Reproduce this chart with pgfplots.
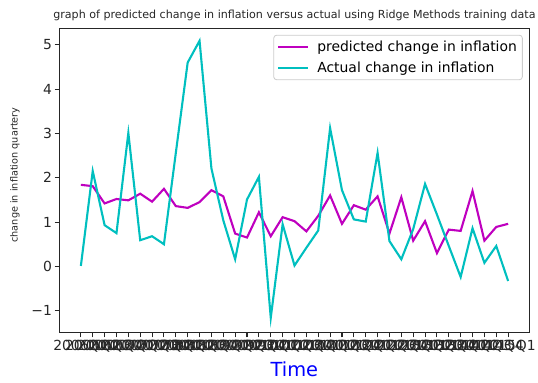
\documentclass[border=0pt]{standalone}
\usepackage{fontspec}
\setmainfont{DejaVu Sans}
\usepackage{pgfplots}
\pgfplotsset{compat=1.18}
\definecolor{mplm}{rgb}{0.75,0,0.75}
\definecolor{mplc}{rgb}{0,0.75,0.75}
\definecolor{legedge}{gray}{0.8}
\definecolor{mplblue}{rgb}{0,0,1}
\pgfplotstableread{
x pred actual
0 1.84 0.01
1 1.81 2.15
2 1.42 0.93
3 1.52 0.75
4 1.49 3.01
5 1.64 0.59
6 1.46 0.68
7 1.75 0.50
8 1.36 2.56
9 1.32 4.60
10 1.45 5.09
11 1.72 2.21
12 1.58 1.04
13 0.74 0.16
14 0.65 1.51
15 1.22 2.02
16 0.68 -1.16
17 1.11 0.95
18 1.02 0.02
19 0.79 0.42
20 1.14 0.81
21 1.60 3.12
22 0.96 1.72
23 1.38 1.06
24 1.28 1.01
25 1.58 2.56
26 0.74 0.57
27 1.56 0.16
28 0.58 0.84
29 1.02 1.86
30 0.30 1.17
31 0.83 0.46
32 0.80 -0.24
33 1.70 0.86
34 0.58 0.08
35 0.89 0.46
36 0.96 -0.33
}\datatable
\begin{document}
\begin{tikzpicture}
\path[use as bounding box] (0,0) rectangle (538bp,383bp);
\begin{axis}[
  at={(59.5bp,50.6bp)}, anchor=south west,
  scale only axis, width=470bp, height=304bp,
  xmin=-1.8, xmax=37.8, ymin=-1.49, ymax=5.37,
  axis line style={line width=1.1bp, black!85},
  tick style={line width=1.1bp, black!85},
  tick align=outside, major tick length=4.9bp,
  xtick pos=bottom, ytick pos=left,
  xtick={0,...,36},
  xticklabels={2006Q1,2006Q2,2006Q3,2006Q4,2007Q1,2007Q2,2007Q3,2007Q4,2008Q1,2008Q2,2008Q3,2008Q4,2009Q1,2009Q2,2009Q3,2009Q4,2010Q1,2010Q2,2010Q3,2010Q4,2011Q1,2011Q2,2011Q3,2011Q4,2012Q1,2012Q2,2012Q3,2012Q4,2013Q1,2013Q2,2013Q3,2013Q4,2014Q1,2014Q2,2014Q3,2014Q4,2015Q1},
  ytick={-1,0,1,2,3,4,5},
  yticklabels={−1,0,1,2,3,4,5},
  tick label style={font=\fontsize{13.9bp}{16bp}\selectfont, text=black!85},
  yticklabel style={inner sep=2.5bp},
  xticklabel style={inner sep=2.5bp},
  legend style={
    at={(0.9857,0.979)}, anchor=north east,
    draw=legedge, line width=0.8bp, rounded corners=3bp, fill=white,
    font=\fontsize{13.9bp}{16.7bp}\selectfont,
    inner xsep=3.5bp, inner ysep=4bp, row sep=4.5bp,
    /tikz/every odd column/.append style={column sep=6bp},
  },
  legend cell align=left,
  legend image code/.code={\draw[#1] (0bp,0bp) -- (30bp,0bp);},
]
\addplot[mplm, line width=2.1bp] table[x=x, y=pred] {\datatable};
\addlegendentry{predicted change in inflation}
\addplot[mplc, line width=2.1bp] table[x=x, y=actual] {\datatable};
\addlegendentry{Actual change in inflation}
\end{axis}
\node[anchor=base, font=\fontsize{11.1bp}{13bp}\selectfont, text=black!85] at (294.4bp,364bp) {graph of predicted change in inflation versus actual using Ridge Methods training data};
\node[rotate=90, font=\fontsize{9.7bp}{11bp}\selectfont, text=black!85] at (15bp,208bp) {change in inflation quartery};
\node[anchor=base, font=\fontsize{19.4bp}{22bp}\selectfont, text=mplblue] at (294.4bp,6.5bp) {Time};
\end{tikzpicture}
\end{document}
